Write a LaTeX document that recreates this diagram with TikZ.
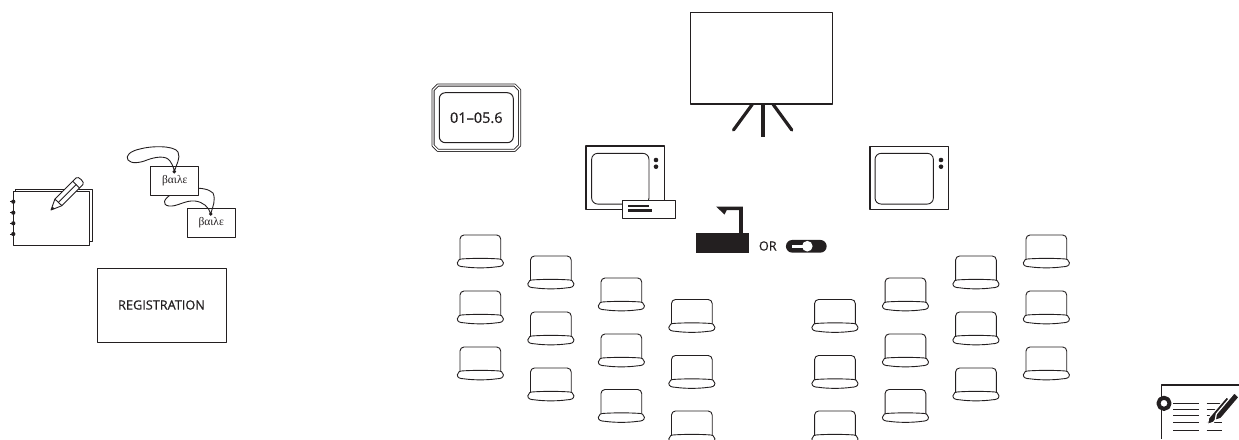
\documentclass[tikz,border=0pt]{standalone}
\usepackage{fontspec}
\setmainfont{Open Sans}
\newfontface\labelfont{Open Sans}[FakeBold=0.6]
\newfontfamily\tagfont{Liberation Serif}
\definecolor{ink}{RGB}{35,31,32}
\begin{document}
\begin{tikzpicture}[x=1pt,y=-1pt,line join=round,
  inkline/.style={draw=ink,line width=1.1pt},
  thinline/.style={draw=ink,line width=0.9pt},
  label/.style={text=ink,inner sep=0pt,font=\labelfont\fontsize{12.7}{14}\selectfont},
  tagbox/.style={inkline,fill=white,minimum width=48pt,minimum height=28.5pt,inner sep=0pt,
    font=\tagfont\fontsize{11.5}{12}\selectfont,text=ink},
  tvframe/.style={draw=ink,line width=1.3pt,fill=white,inner sep=0pt},
  tvscreen/.style={draw=ink,line width=0.9pt,rounded corners=6pt,inner sep=0pt},
  knob/.style={circle,fill=ink,inner sep=0pt,minimum size=4.6pt},
  chair/.pic={
    \draw[thinline,rounded corners=4pt] (0,26) -- (0,0) -- (40.7,0) -- (40.7,26);
    \draw[thinline,fill=white] (-2.7,27.8)
      .. controls (-2.7,24.8) and (0,23.8) .. (4,23.8)
      .. controls (14,23.2) and (26.7,23.2) .. (36.7,23.8)
      .. controls (40.7,23.8) and (43.4,24.8) .. (43.4,27.8)
      .. controls (43.4,31) and (40.5,31.6) .. (36.7,31.8)
      .. controls (27,33.2) and (13.7,33.2) .. (4,31.8)
      .. controls (0.2,31.6) and (-2.7,31) .. (-2.7,27.8) -- cycle;
  }]
\useasboundingbox (0,0) rectangle (1239,439);
\clip (0,0) rectangle (1239,439);

% ---------- notebook with pencil ----------
\draw[inkline,fill=white] (15.7,189.3) rectangle (92.3,241.7);
\draw[inkline,fill=white] (13.3,191.7) rectangle (89.3,245.7);
\foreach \ry in {201.7,212.7,223.3,234} {
  \draw[ink,line width=0.9pt] (9.8,\ry) -- (13.3,\ry);
  \fill[ink] (13.3,\ry) circle (2.1);
}
\draw[thinline,fill=white] (51,210) -- (54.9,199.1) -- (76.1,177.9)
  .. controls (78.4,175.6) and (85.2,182.4) .. (82.9,184.7) -- (61.9,205.7) -- cycle;
\draw[thinline] (54.9,199.1) -- (61.9,205.7);
\draw[thinline] (72.9,181.4) -- (79.6,188.1);
\draw[thinline] (58.4,202.4) -- (76.3,184.5);
\fill[ink] (51,210) -- (52.4,206.4) -- (54.6,208.6) -- cycle;

% ---------- name tags ----------
\node[tagbox] (tagB) at (211.2,222.8) {βαιλε};
\draw[thinline] (210.7,214) .. controls (213,206) and (216,200) .. (213,193)
  .. controls (205,185) and (180,188) .. (172,194)
  .. controls (163,199) and (162,205) .. (169,206)
  .. controls (177,207) and (185,200) .. (195,201)
  .. controls (203,202) and (209,207) .. (210.7,214);
\node[tagbox] (tagA) at (174.8,180.8) {βαιλε};
\draw[thinline] (174.3,171.7) .. controls (176,165) and (181,158) .. (178,152)
  .. controls (174,145) and (150,146) .. (140,149)
  .. controls (130,151) and (125,156) .. (128,160)
  .. controls (131,164) and (140,163) .. (147,160)
  .. controls (155,157) and (166,155) .. (170,161)
  .. controls (172,164) and (174,168) .. (174.3,171.7);
\fill[ink] (174.3,171.7) circle (1.9);
\fill[ink] (210.7,214) circle (1.9);

% ---------- registration desk ----------
\node[draw=ink,line width=1pt,minimum width=129pt,minimum height=74pt,inner sep=0pt,
  text=ink,font=\labelfont\fontsize{12.7}{14}\selectfont] (reg) at (161.5,305) {REGISTRATION};

% ---------- clock ----------
\draw[draw=ink,line width=0.8pt,double=white,double distance=1.4pt]
  (438,85) -- (514.6,85) -- (519.6,90) -- (519.6,145.4) -- (514.6,150.4)
  -- (438,150.4) -- (433,145.4) -- (433,90) -- cycle;
\node[draw=ink,line width=1pt,rounded corners=6pt,minimum width=74pt,minimum height=50pt,
  inner sep=0pt,text=ink,font=\labelfont\fontsize{14.5}{16}\selectfont] (clock) at (476.3,117.7) {01–05.6};

% ---------- projection screen ----------
\node[draw=ink,line width=1.4pt,minimum width=142pt,minimum height=91.3pt,inner sep=0pt] (screen) at (761.7,58.35) {};
\coordinate (legtop) at (762.7,104);
\draw[ink,line width=3.6pt] (legtop) -- (762.7,137);
\draw[ink,line width=3.2pt,line cap=round] (752.2,104.5) -- (733.5,130);
\draw[ink,line width=3.2pt,line cap=round] (773.2,104.5) -- (791.8,130);

% ---------- television sets ----------
\node[tvframe,minimum width=78.3pt,minimum height=63.3pt] (tvL) at (625.2,177.7) {};
\node[tvscreen,minimum width=57.3pt,minimum height=50.7pt] (tvLs) at (620.3,178.7) {};
\node[knob] (tvLk1) at (656,160) {};
\node[knob] (tvLk2) at (656,166.7) {};
\node[draw=ink,line width=1.2pt,fill=white,minimum width=53.4pt,minimum height=18pt,inner sep=0pt] (vcr) at (649,209.7) {};
\fill[ink] (627.7,205.2) rectangle (649,207.4);
\fill[ink] (627.7,209) rectangle (652,212.2);

\node[tvframe,minimum width=78.3pt,minimum height=62.6pt] (tvR) at (909.2,178) {};
\node[tvscreen,minimum width=58.3pt,minimum height=50.7pt] (tvRs) at (904.2,178.7) {};
\node[knob] (tvRk1) at (941,160) {};
\node[knob] (tvRk2) at (941,166.7) {};

% ---------- overhead projector or LCD projector ----------
\node[fill=ink,minimum width=53.3pt,minimum height=20pt,inner sep=0pt] (ohp) at (722.7,243.3) {};
\fill[ink] (716,206.5) -- (742.9,206.5) -- (742.9,234) -- (739.1,234) -- (739.1,210.2)
  -- (726.7,210.2) -- (724.5,214.5) -- cycle;
\node[label] (or) at (767.8,246) {OR};
\node[fill=ink,rounded corners=6.3pt,minimum width=40.7pt,minimum height=12.7pt,inner sep=0pt] (lcd) at (806.3,246.3) {};
\fill[white] (791.7,244.8) rectangle (803,247.6);
\fill[white] (807.3,246.2) circle (5.3);

% ---------- seating ----------
\foreach \cx/\cy in {460/235, 460/291, 460/347,
                     530.5/256, 530.5/312, 530.5/368,
                     601/278, 601/334, 601/389.5,
                     671.5/299.5, 671.5/355.5, 671.5/411,
                     1026/235, 1026/291, 1026/347,
                     955.6/256, 955.6/312, 955.6/368,
                     885.1/278, 885.1/334, 885.1/389.5,
                     814.6/299.5, 814.6/355.5, 814.6/411}
  \pic at (\cx,\cy) {chair};

% ---------- notes icon ----------
\draw[inkline] (1239,385) -- (1161.7,385) -- (1161.7,439);
\foreach \ly in {403,409,415.7,422.3,430} {
  \draw[ink,line width=0.9pt] (1173.3,\ly) -- (1199.3,\ly);
  \draw[ink,line width=0.9pt] (1206.7,\ly) -- (1222,\ly);
}
\draw[draw=ink,line width=4pt,fill=white] (1164,403.3) circle (5.6);
\foreach \sx/\sy in {0/0, 7.7/-4} {
  \begin{scope}[shift={(\sx,\sy)}]
    \draw[white,line width=1.2pt,fill=ink] (1207.5,424.5) -- (1208.6,418) -- (1226.6,396.8)
      -- (1231.4,401.2) -- (1213.4,422.3) -- cycle;
  \end{scope}
}
\end{tikzpicture}
\end{document}
